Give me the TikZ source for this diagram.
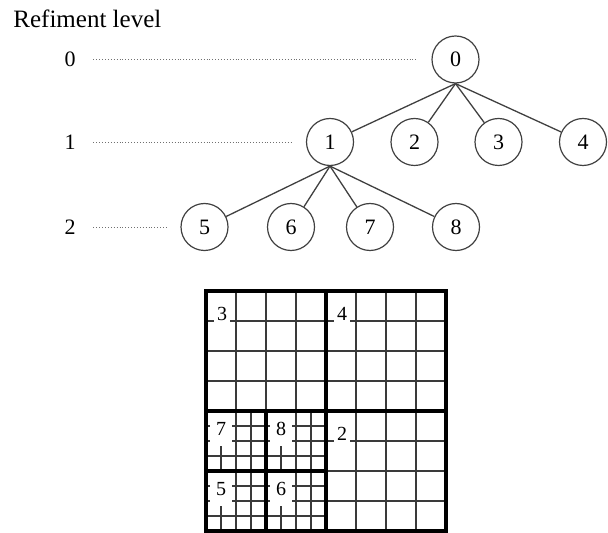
\documentclass[tikz,border=0pt]{standalone}
\usepackage{fontspec}
\setmainfont{Liberation Serif}
\definecolor{EdgeGray}{HTML}{404040}
\definecolor{GridGray}{HTML}{3A3A3A}
\definecolor{DotGray}{HTML}{707070}

\begin{document}
\begin{tikzpicture}[x=0.5pt, y=-0.5pt,
    octnode/.style={circle, draw=EdgeGray, line width=0.6pt, minimum size=23.5pt, inner sep=0pt, font=\fontsize{11}{13}\selectfont},
    lvl/.style={inner sep=0pt, font=\fontsize{11}{13}\selectfont},
    lvlline/.style={densely dotted, line width=0.45pt, color=DotGray, shorten <=8.75pt, shorten >=6.75pt},
    edge/.style={line width=0.65pt, color=EdgeGray},
    thinline/.style={line width=0.8pt, color=GridGray},
    thickline/.style={line width=1.6pt, color=black},
    blocklabel/.style={fill=white, inner sep=0pt, minimum width=8pt, minimum height=9pt, font=\fontsize{10}{12}\selectfont},
    finelabel/.style={blocklabel, minimum width=11pt, minimum height=17pt}]
    \useasboundingbox (0,0) rectangle (608,533);

    % tree
    \node[anchor=base west, inner sep=0pt, font=\fontsize{12.5}{15}\selectfont] (title) at (13,28) {Refiment level};
    \node[lvl] (lab0) at (70,59.5) {0};
    \node[lvl] (lab1) at (70,142) {1};
    \node[lvl] (lab2) at (70,227) {2};

    \node[octnode] (n0) at (455.5,59.5) {0};
    \node[octnode] (n1) at (330,142) {1};
    \node[octnode] (n2) at (414.5,142) {2};
    \node[octnode] (n3) at (498.5,142) {3};
    \node[octnode] (n4) at (583,142) {4};
    \node[octnode] (n5) at (204.5,227) {5};
    \node[octnode] (n6) at (291,227) {6};
    \node[octnode] (n7) at (370,227) {7};
    \node[octnode] (n8) at (456,227) {8};

    \draw[lvlline] (lab0) -- (n0);
    \draw[lvlline] (lab1) -- (n1);
    \draw[lvlline] (lab2) -- (n5);

    \foreach \c in {n1,n2,n3,n4}
        \draw[edge] (n0.south) -- (\c);
    \foreach \c in {n5,n6,n7,n8}
        \draw[edge] (n1.south) -- (\c);

    % mesh: coarse cells
    \foreach \x in {236,266,296,356,386,416}
        \draw[thinline] (\x,291) -- (\x,411);
    \foreach \y in {321,351,381}
        \draw[thinline] (206,\y) -- (446,\y);
    \foreach \x in {356,386,416}
        \draw[thinline] (\x,411) -- (\x,531);
    \foreach \y in {441,471,501}
        \draw[thinline] (326,\y) -- (446,\y);
    % mesh: fine cells
    \foreach \k in {15,30,...,105} {
        \draw[thinline] (206+\k,411) -- (206+\k,531);
        \draw[thinline] (206,411+\k) -- (326,411+\k);
    }

    \node[blocklabel] (b3) at (222,314) {3};
    \node[blocklabel] (b4) at (342,314) {4};
    \node[blocklabel] (b2) at (342,434) {2};
    \node[finelabel] (b7) at (221,429) {7};
    \node[finelabel] (b8) at (281,429) {8};
    \node[finelabel] (b5) at (221,489) {5};
    \node[finelabel] (b6) at (281,489) {6};

    \draw[thickline] (206,291) rectangle (446,531);
    \draw[thickline] (326,291) -- (326,531);
    \draw[thickline] (206,411) -- (446,411);
    \draw[thickline] (266,411) -- (266,531);
    \draw[thickline] (206,471) -- (326,471);
\end{tikzpicture}
\end{document}
